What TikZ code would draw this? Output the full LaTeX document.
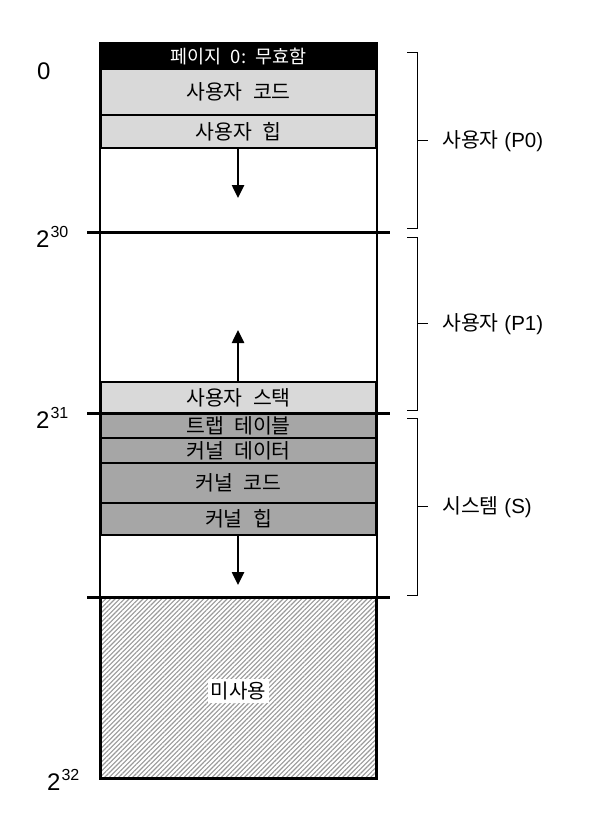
\documentclass[tikz,border=0pt]{standalone}
\usepackage{fontspec}
\setmainfont{Liberation Sans}
\newfontfamily\kr{Noto Sans CJK KR}
\newcommand\wsp{\hspace{0.5em}}
\usetikzlibrary{arrows.meta,patterns.meta}
\definecolor{lgray}{RGB}{217,217,217}
\definecolor{dgray}{RGB}{166,166,166}
\begin{document}
\begin{tikzpicture}[x=1pt,y=-1pt,
  seg/.style={draw=black, line width=1.5pt, minimum width=275pt, inner sep=0pt,
    font=\kr\fontsize{20.5}{20.5}\selectfont},
  usr/.style={seg, fill=lgray},
  krn/.style={seg, fill=dgray},
  outerframe/.style={draw=black, line width=2pt},
  sepline/.style={draw=black, line width=3pt},
  growarrow/.style={draw=black, line width=2.5pt, -{Triangle[width=12pt,length=13pt]}},
  bracket/.style={draw=black, line width=1pt},
  addrlbl/.style={anchor=base west, inner sep=0pt, font=\fontsize{24}{24}\selectfont},
  regionlbl/.style={anchor=west, inner sep=0pt, font=\fontsize{20.5}{20.5}\selectfont},
]
\useasboundingbox (0,0) rectangle (594,840);

% segments
\node[seg, fill=black, text=white, minimum height=25pt, font=\kr\fontsize{18.5}{18.5}\selectfont] (p0) at (238.5,56.5) {페이지\wsp 0:\wsp 무효함};
\node[usr, minimum height=46pt] (ucode) at (238.5,92) {사용자\wsp 코드};
\node[usr, minimum height=33pt] (uheap) at (238.5,131.5) {사용자\wsp 힙};
\node[usr, minimum height=31pt] (ustack) at (238.5,397.5) {사용자\wsp 스택};
\node[krn, minimum height=25pt] (trap) at (238.5,425.5) {트랩\wsp 테이블};
\node[krn, minimum height=25pt] (kdata) at (238.5,450.5) {커널\wsp 데이터};
\node[krn, minimum height=40pt] (kcode) at (238.5,483) {커널\wsp 코드};
\node[krn, minimum height=32pt] (kheap) at (238.5,519) {커널\wsp 힙};
\node[seg, fill=white, pattern={Lines[angle=45,distance=3.3pt,line width=1.1pt]},
      pattern color=gray!80, minimum height=181pt] (unused) at (238.5,687.5) {};
\node[fill=white, inner sep=3pt, font=\kr\fontsize{20}{20}\selectfont] (unusedlbl) at (238.5,691) {미사용};

% outer frame
\draw[outerframe] (p0.north west) rectangle (unused.south east);

% separator lines
\coordinate (s30a) at (87,232);  \coordinate (s30b) at (390,232);
\coordinate (s31a) at (87,413);  \coordinate (s31b) at (390,413);
\coordinate (s32a) at (87,597);  \coordinate (s32b) at (390,597);
\draw[sepline] (s30a) -- (s30b);
\draw[sepline] (s31a) -- (s31b);
\draw[sepline] (s32a) -- (s32b);

% growth arrows
\coordinate (uheapend) at (238,198);
\coordinate (ustackend) at (238,330);
\coordinate (kheapend) at (238,585);
\draw[growarrow] (uheap.south -| uheapend) -- (uheapend);
\draw[growarrow] (ustack.north -| ustackend) -- (ustackend);
\draw[growarrow] (kheap.south -| kheapend) -- (kheapend);

% address labels
\node[addrlbl] (a0) at (37,80) {0};
\node[addrlbl] (a30) at (36,247) {2\hspace{1pt}\raisebox{9.5pt}{\fontsize{16}{16}\selectfont 30}};
\node[addrlbl] (a31) at (36,428) {2\hspace{1pt}\raisebox{9.5pt}{\fontsize{16}{16}\selectfont 31}};
\node[addrlbl] (a32) at (47,790) {2\hspace{1pt}\raisebox{9.5pt}{\fontsize{16}{16}\selectfont 32}};

% brackets
\coordinate (b0t) at (407,53);  \coordinate (b0b) at (407,228); \coordinate (b0m) at (417,140.5);
\coordinate (b1t) at (407,237); \coordinate (b1b) at (407,410); \coordinate (b1m) at (417,323.5);
\coordinate (b2t) at (407,418); \coordinate (b2b) at (407,595); \coordinate (b2m) at (417,506.5);
\draw[bracket] (b0t) -- ++(10,0) |- (b0b);
\draw[bracket] (b0m) -- ++(11,0);
\draw[bracket] (b1t) -- ++(10,0) |- (b1b);
\draw[bracket] (b1m) -- ++(11,0);
\draw[bracket] (b2t) -- ++(10,0) |- (b2b);
\draw[bracket] (b2m) -- ++(11,0);

\node[regionlbl] (rp0) at (442,141) {{\kr 사용자} (P0)};
\node[regionlbl] (rp1) at (442,324) {{\kr 사용자} (P1)};
\node[regionlbl] (rs) at (442,507) {{\kr 시스템} (S)};
\end{tikzpicture}
\end{document}
